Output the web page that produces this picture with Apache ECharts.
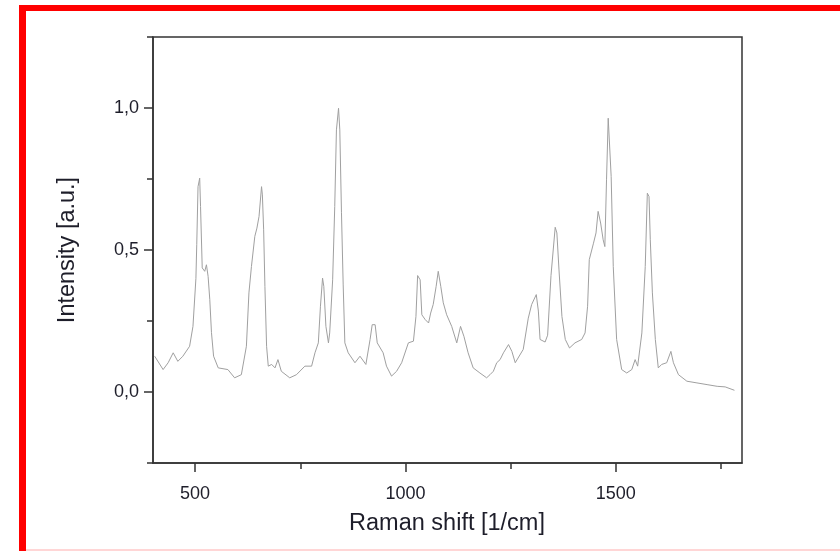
<!DOCTYPE html>
<html>
<head>
<meta charset="utf-8">
<script src="https://cdn.jsdelivr.net/npm/echarts@6/dist/echarts.min.js"></script>
<style>
html,body{margin:0;padding:0;background:#fff;}
#chart{width:840px;height:551px;}
</style>
</head>
<body>
<div id="chart"></div>
<script>
// Raman shift values (1/cm)
const ramanShift = [404,424,436,448,459,471,487,495,502,504,507,511,513,517,523,527,531,535,539,544,555,578,594,610,622,628,634,642,647,652,658,660,663,666,670,674,682,690,697,705,725,741,761,777,785,793,798,803,806,811,817,820,827,832,836,841,844,848,852,856,864,880,892,906,916,921,928,933,947,955,967,979,991,1007,1019,1025,1029,1035,1039,1047,1055,1060,1066,1073,1078,1084,1090,1098,1110,1122,1131,1139,1149,1161,1177,1193,1201,1209,1217,1225,1233,1245,1253,1261,1280,1292,1300,1311,1316,1320,1332,1338,1346,1356,1360,1365,1372,1380,1390,1403,1419,1427,1433,1437,1447,1453,1458,1464,1470,1474,1478,1482,1486,1489,1494,1502,1514,1526,1538,1546,1552,1562,1570,1575,1579,1582,1587,1594,1601,1609,1621,1631,1637,1649,1669,1693,1717,1741,1760,1782];
// Intensity values (a.u.)
const intensity = [0.126,0.079,0.103,0.138,0.108,0.126,0.161,0.231,0.40,0.52,0.723,0.753,0.653,0.437,0.425,0.448,0.407,0.325,0.209,0.126,0.085,0.079,0.050,0.061,0.161,0.349,0.442,0.548,0.577,0.618,0.723,0.694,0.571,0.372,0.161,0.091,0.097,0.085,0.114,0.073,0.050,0.061,0.091,0.091,0.138,0.173,0.302,0.401,0.372,0.231,0.173,0.208,0.395,0.653,0.923,0.999,0.923,0.631,0.38,0.173,0.138,0.103,0.126,0.097,0.185,0.237,0.237,0.173,0.138,0.091,0.056,0.073,0.103,0.173,0.179,0.266,0.410,0.395,0.272,0.255,0.243,0.278,0.308,0.372,0.425,0.372,0.314,0.272,0.231,0.173,0.231,0.196,0.138,0.085,0.067,0.050,0.061,0.073,0.103,0.114,0.138,0.167,0.143,0.103,0.150,0.260,0.308,0.343,0.285,0.185,0.176,0.20,0.41,0.58,0.560,0.430,0.266,0.185,0.155,0.173,0.185,0.208,0.302,0.466,0.524,0.560,0.636,0.595,0.536,0.512,0.747,0.964,0.958,0.759,0.442,0.185,0.079,0.067,0.079,0.114,0.091,0.208,0.442,0.700,0.688,0.536,0.349,0.185,0.085,0.097,0.103,0.143,0.103,0.061,0.038,0.032,0.026,0.020,0.018,0.006];

const xMajorTicks = [500, 1000, 1500];
const xMajorLabels = ['500', '1000', '1500'];
const xMinorTicks = [750, 1250, 1750];
const yMajorTicks = [0, 0.5, 1.0];
const yMajorLabels = ['0,0', '0,5', '1,0'];
const yMinorTicks = [-0.25, 0.25, 0.75, 1.25];

const xTitle = 'Raman shift [1/cm]';
const yTitle = 'Intensity [a.u.]';

const FONT = 'Liberation Sans, Arial, sans-serif';
const AX = '#333333';

const chart = echarts.init(document.getElementById('chart'), null, {renderer: 'canvas'});
const seriesData = ramanShift.map((x, i) => [x, intensity[i]]);
const pick = (ticks, labels) => v => {
  const i = ticks.findIndex(t => Math.abs(t - v) < 1e-9);
  return i >= 0 ? labels[i] : '';
};

chart.setOption({
  animation: false,
  backgroundColor: '#ffffff',
  grid: {left: 153, top: 37, right: 98, bottom: 88, show: true, borderColor: AX, borderWidth: 1.5, backgroundColor: 'transparent'},
  xAxis: [
    {
      type: 'value', min: 400, max: 1800, position: 'bottom',
      axisLine: {show: true, onZero: false, lineStyle: {color: AX, width: 1.5}},
      axisTick: {show: true, customValues: xMajorTicks, length: 9, lineStyle: {color: AX, width: 1.5}},
      axisLabel: {show: true, customValues: xMajorTicks, margin: 22, fontSize: 18, fontFamily: FONT, color: '#1e1e2a',
        formatter: pick(xMajorTicks, xMajorLabels)},
      splitLine: {show: false}
    },
    {
      type: 'value', min: 400, max: 1800, position: 'bottom',
      axisLine: {show: false, onZero: false},
      axisTick: {show: true, customValues: xMinorTicks, length: 6, lineStyle: {color: AX, width: 1.5}},
      axisLabel: {show: false},
      splitLine: {show: false}
    }
  ],
  yAxis: [
    {
      type: 'value', min: -0.25, max: 1.25, position: 'left',
      axisLine: {show: true, onZero: false, lineStyle: {color: AX, width: 1.5}},
      axisTick: {show: true, customValues: yMajorTicks, length: 9, lineStyle: {color: AX, width: 1.5}},
      axisLabel: {show: true, customValues: yMajorTicks, margin: 14, fontSize: 18, fontFamily: FONT, color: '#1e1e2a',
        formatter: pick(yMajorTicks, yMajorLabels)},
      splitLine: {show: false}
    },
    {
      type: 'value', min: -0.25, max: 1.25, position: 'left',
      axisLine: {show: false, onZero: false},
      axisTick: {show: true, customValues: yMinorTicks, length: 6, lineStyle: {color: AX, width: 1.5}},
      axisLabel: {show: false},
      splitLine: {show: false}
    }
  ],
  series: [{
    type: 'line', data: seriesData, xAxisIndex: 0, yAxisIndex: 0,
    showSymbol: false, symbol: 'none',
    lineStyle: {color: '#a0a0a0', width: 1}
  }],
  graphic: [
    {type: 'text', x: 447, y: 524, style: {text: xTitle, fontSize: 23.5, fontFamily: FONT, fill: '#1e1e2a', align: 'center', verticalAlign: 'middle'}},
    {type: 'text', x: 68, y: 250, rotation: Math.PI / 2, style: {text: yTitle, fontSize: 23.5, fontFamily: FONT, fill: '#1e1e2a', align: 'center', verticalAlign: 'middle'}},
    {type: 'rect', shape: {x: 19, y: 5, width: 7, height: 546}, style: {fill: '#ff0000'}},
    {type: 'rect', shape: {x: 19, y: 5, width: 821, height: 6}, style: {fill: '#ff0000'}},
    {type: 'rect', shape: {x: 26, y: 549, width: 814, height: 2}, style: {fill: '#ffd6d6'}}
  ]
});
</script>
</body>
</html>
